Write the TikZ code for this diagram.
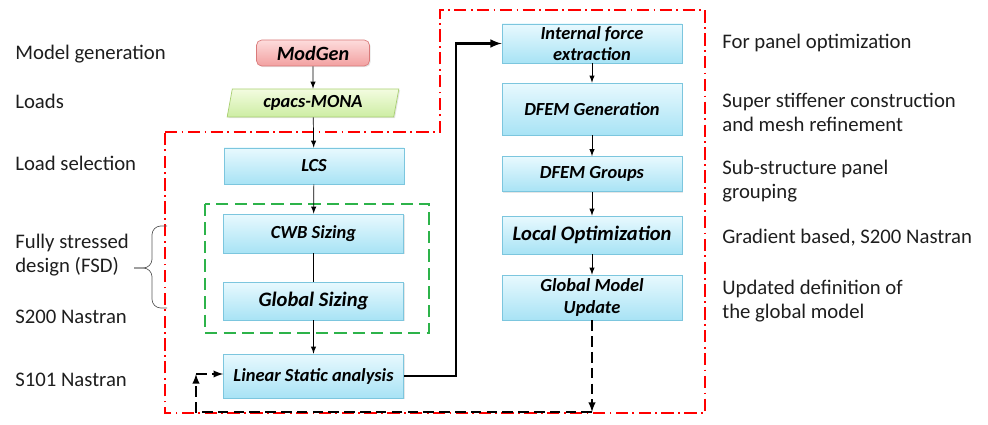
\documentclass[tikz,border=0pt]{standalone}
\usepackage{fontspec}
\setmainfont{Carlito}
\usetikzlibrary{shapes.geometric,shadows}
\definecolor{boxline}{HTML}{7CC6DE}
\definecolor{boxtop}{HTML}{E8F9FE}
\definecolor{boxbot}{HTML}{A8E3F5}
\definecolor{genline}{HTML}{D97A7A}
\definecolor{gentop}{HTML}{FDDCDC}
\definecolor{genbot}{HTML}{F2A0A0}
\definecolor{loadline}{HTML}{A9CF72}
\definecolor{loadtop}{HTML}{F3FCE0}
\definecolor{loadbot}{HTML}{CDEDA3}
\definecolor{framered}{HTML}{FF0000}
\definecolor{grpgreen}{HTML}{2DB34A}
\definecolor{txt}{HTML}{1E1E1E}

\begin{document}
\begin{tikzpicture}[x=0.02cm, y=-0.02cm, >=latex,
		note/.style={anchor=west, align=left, inner sep=0pt, text=txt, font=\fontsize{11.8}{13.6}\selectfont},
		box/.style={draw=boxline, top color=boxtop, bottom color=boxbot, minimum width=3.6cm, align=center, inner sep=1pt,
			font=\fontsize{10.5}{12}\selectfont\bfseries\itshape,
			drop shadow={opacity=0.2, shadow xshift=0.7pt, shadow yshift=-0.7pt}},
		bigbox/.style={box, font=\fontsize{11.7}{13}\selectfont\bfseries\itshape},
		gen/.style={box, draw=genline, top color=gentop, bottom color=genbot, rounded corners=3pt,
			minimum width=2.26cm, minimum height=0.52cm, font=\fontsize{11.5}{13}\selectfont\bfseries\itshape},
		loads/.style={box, trapezium, trapezium left angle=80, trapezium right angle=100, trapezium stretches=true,
			draw=loadline, top color=loadtop, bottom color=loadbot, minimum width=3.45cm, minimum height=0.56cm},
		fb/.style={dashed, dash pattern=on 6pt off 3pt, line width=0.9pt}
	]
	\useasboundingbox (0,0) rectangle (988,425);
	
	% frames
	\draw[framered, line width=1.1pt, dash pattern=on 7pt off 2.5pt on 1pt off 2.5pt]
	(165,132) -- (440,132) -- (440,10) -- (705,10) -- (705,413) -- (165,413) -- cycle;
	\draw[grpgreen, line width=1.1pt, dash pattern=on 7pt off 3.5pt] (205,204) rectangle (429,333);
	
	% left column
	\node[gen] (modgen) at (313,53) {ModGen};
	\node[loads] (mona) at (313,103) {cpacs-MONA};
	\node[box, minimum height=0.72cm] (lcs) at (314,166) {LCS};
	\node[box, minimum height=0.78cm] (cwb) at (313.5,233.5) {CWB Sizing};
	\node[bigbox, minimum height=0.76cm] (gsz) at (313.5,301) {Global Sizing};
	\node[box, minimum height=0.88cm] (lsa) at (313.5,376) {Linear Static analysis};
	
	% right column
	\node[box, minimum height=0.78cm] (ife) at (592,43.5) {Internal force\\extraction};
	\node[box, minimum height=1.04cm] (dgen) at (592,109) {DFEM Generation};
	\node[box, minimum height=0.70cm] (dgrp) at (592,174) {DFEM Groups};
	\node[bigbox, minimum height=0.76cm] (lopt) at (592,235) {Local Optimization};
	\node[box, minimum height=0.90cm] (gmu) at (592,297.5) {Global Model\\Update};
	
	\draw[->] (modgen) -- (mona);
	\draw[->] (mona) -- (lcs);
	\draw[->] (lcs) -- (cwb);
	\draw (cwb) -- (gsz);
	\draw[->] (gsz) -- (lsa);
	\foreach \a/\b in {ife/dgen, dgen/dgrp, dgrp/lopt, lopt/gmu}
	\draw[->] (\a) -- (\b);
	
	\coordinate (up) at (456,0);
	\draw[->, line width=1.2pt] (lsa.east) -- (lsa.east -| up) |- (ife.west);
	
	% feedback loop
	\coordinate (fbr) at (593,412);
	\coordinate (fbl) at (196,412);
	\coordinate (fbt) at (196,374);
	\draw[fb, ->] (gmu.south) -- (gmu.south |- fbr);
	\draw[fb, ->] (gmu.south |- fbr) -- (fbl) -- (fbt);
	\draw[fb, ->] (fbt) -- (fbt -| lsa.west);
	
	% left notes
	\node[note] (lmg) at (15,54) {Model generation};
	\node[note] (lld) at (15,101) {Loads};
	\node[note] (lls) at (15,163) {Load selection};
	\node[note] (lfsd) at (15,255.5) {Fully stressed\\design (FSD)};
	\node[note] (ls2) at (15,317) {S200 Nastran};
	\node[note] (ls1) at (15,380) {S101 Nastran};
	\draw[black!65, rounded corners=5pt] (167,226) -- (152,226) -- (152,268) -- (134,268);
	\draw[black!65, rounded corners=5pt] (134,268) -- (152,268) -- (152,308) -- (167,308);
	
	% right notes
	\node[note] (rpo) at (722,43) {For panel optimization};
	\node[note] (rsc) at (722,112) {Super stiffener construction\\and mesh refinement};
	\node[note] (rsub) at (722,181.5) {Sub-structure panel\\grouping};
	\node[note] (rgr) at (722,238) {Gradient based, S200 Nastran};
	\node[note] (rup) at (722,301.5) {Updated definition of\\the global model};
\end{tikzpicture}
\end{document}
